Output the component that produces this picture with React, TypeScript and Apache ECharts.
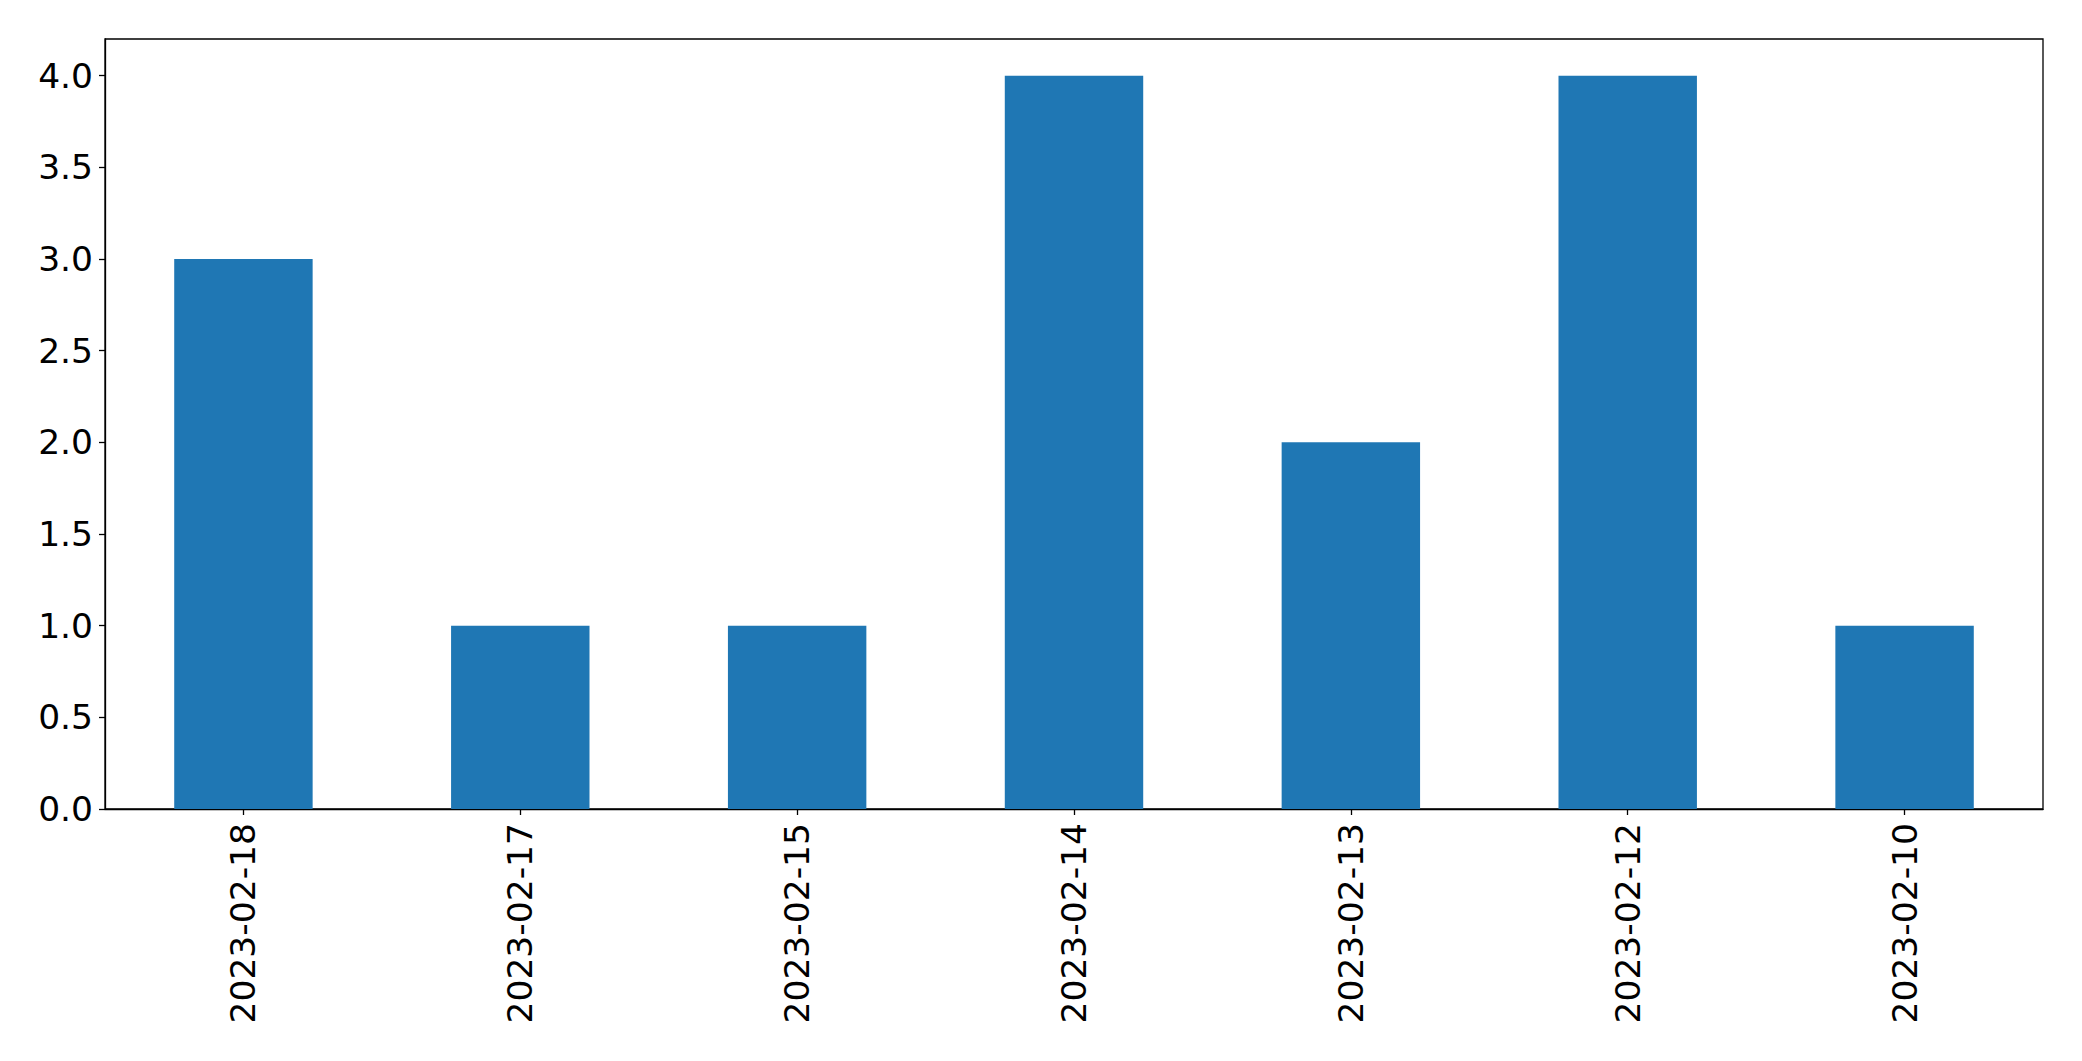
import React, { useEffect, useRef } from "react";
import * as echarts from "echarts";

const categories = ["2023-02-18", "2023-02-17", "2023-02-15", "2023-02-14", "2023-02-13", "2023-02-12", "2023-02-10"];
const values = [3, 1, 1, 4, 2, 4, 1];
const yTicks = [0, 0.5, 1, 1.5, 2, 2.5, 3, 3.5, 4];

export default function App() {
  const ref = useRef<HTMLDivElement>(null);
  useEffect(() => {
    const chart = echarts.init(ref.current!, null, { renderer: "svg" });
    const font = "DejaVu Sans";
    chart.setOption({
      animation: false,
      backgroundColor: "#fff",
      grid: {
        left: 105,
        right: 39,
        top: 39,
        bottom: 252,
        show: true,
        borderColor: "#000",
        borderWidth: 1.3,
        backgroundColor: "transparent",
      },
      xAxis: {
        type: "category",
        data: categories,
        axisLine: { show: true, lineStyle: { color: "#000", width: 1.3 } },
        axisTick: { show: true, alignWithLabel: true, length: 6, lineStyle: { color: "#000", width: 1.3 } },
        axisLabel: {
          rotate: 90,
          interval: 0,
          margin: 14,
          fontSize: 34.5,
          fontFamily: font,
          color: "#000",
        },
        splitLine: { show: false },
      },
      yAxis: {
        type: "value",
        min: 0,
        max: 4.2,
        axisLine: { show: true, lineStyle: { color: "#000", width: 1.3 } },
        axisTick: { show: true, length: 6, customValues: yTicks, lineStyle: { color: "#000", width: 1.3 } },
        axisLabel: {
          customValues: yTicks,
          margin: 12,
          fontSize: 34.5,
          fontFamily: font,
          color: "#000",
          formatter: (v: number) => v.toFixed(1),
        },
        splitLine: { show: false },
      },
      series: [
        {
          type: "bar",
          data: values,
          barWidth: "50%",
          itemStyle: { color: "#1f77b4" },
        },
      ],
    });
    return () => chart.dispose();
  }, []);
  return (
    <div
      ref={ref}
      style={{ position: "absolute", left: 0, top: 0, width: 2082, height: 1061 }}
    />
  );
}
